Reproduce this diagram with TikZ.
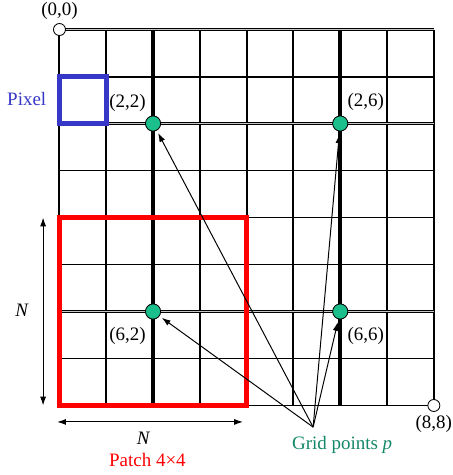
\documentclass[tikz,border=0pt]{standalone}
\usepackage{fontspec}
\setmainfont{Liberation Serif}
\usetikzlibrary{arrows.meta,positioning}
\definecolor{gridgreen}{RGB}{26,191,140}
\definecolor{textgreen}{RGB}{20,135,105}
\definecolor{pixelblue}{RGB}{55,55,200}

\begin{document}
\begin{tikzpicture}[x=1.17cm, y=-1.175cm, >={Latex[length=2.2mm,width=1.5mm]},
  font=\fontsize{13.5}{16}\selectfont,
  gridpt/.style={circle, draw, fill=gridgreen, inner sep=0pt, minimum size=3.8mm, line width=0.6pt},
  corner/.style={circle, draw, fill=white, inner sep=0pt, minimum size=3mm, line width=0.6pt},
  lbl/.style={inner sep=1pt}]
  \useasboundingbox (-1.271,-0.628) rectangle (8.408,9.479);

  % grid
  \foreach \i in {0,...,8} {
    \draw[line width=1.4pt] (\i,0) -- (\i,8);
    \draw[line width=1.4pt] (0,\i) -- (8,\i);
  }
  \foreach \i in {0,2,6}
    \draw[line width=0.8pt, double=gray!45, double distance=0.8pt] (0,\i) -- (8,\i);
  \foreach \i in {2,6}
    \draw[line width=2.6pt] (\i,0) -- (\i,8);

  % pixel and patch
  \draw[pixelblue, line width=3.2pt] (0,1) rectangle (1,2);
  \node[pixelblue] (pixel) at (-0.70,1.48) {Pixel};
  \draw[red, line width=3.6pt] (0,4) rectangle (4,8);

  % corners
  \node[corner] (c00) at (0,0) {};
  \node[lbl, above=1pt of c00] (l00) {(0,0)};
  \node[corner] (c88) at (8,8) {};
  \node[lbl, below=1pt of c88] (l88) {(8,8)};

  % grid points
  \node[gridpt] (p22) at (2,2) {};
  \node[gridpt] (p26) at (6,2) {};
  \node[gridpt] (p62) at (2,6) {};
  \node[gridpt] (p66) at (6,6) {};
  \node[lbl, above left=3pt and 0pt of p22] (l22) {(2,2)};
  \node[lbl, above right=4pt and 0pt of p26] (l26) {(2,6)};
  \node[lbl, below left=6pt and 0pt of p62] (l62) {(6,2)};
  \node[lbl, below right=6pt and 0pt of p66] (l66) {(6,6)};

  % arrows to grid points
  \coordinate (src) at (5.42,8.46);
  \foreach \p in {p22,p26,p62,p66}
    \draw[->, line width=0.7pt, shorten >=2pt] (src) -- (\p);
  \node[textgreen] (gp) at (6.04,8.84) {Grid points \textit{p}};

  % patch size
  \coordinate (va) at (-0.35,4);
  \coordinate (vb) at (-0.35,8);
  \draw[<->, line width=0.7pt] (va) -- (vb);
  \node (nv) at (-0.80,5.97) {\textit{N}};
  \coordinate (ha) at (-0.05,8.35);
  \coordinate (hb) at (3.92,8.35);
  \draw[<->, line width=0.7pt] (ha) -- (hb);
  \node (nh) at (1.80,8.69) {\textit{N}};
  \node[red] (patch) at (1.88,9.16) {Patch 4×4};
\end{tikzpicture}
\end{document}
